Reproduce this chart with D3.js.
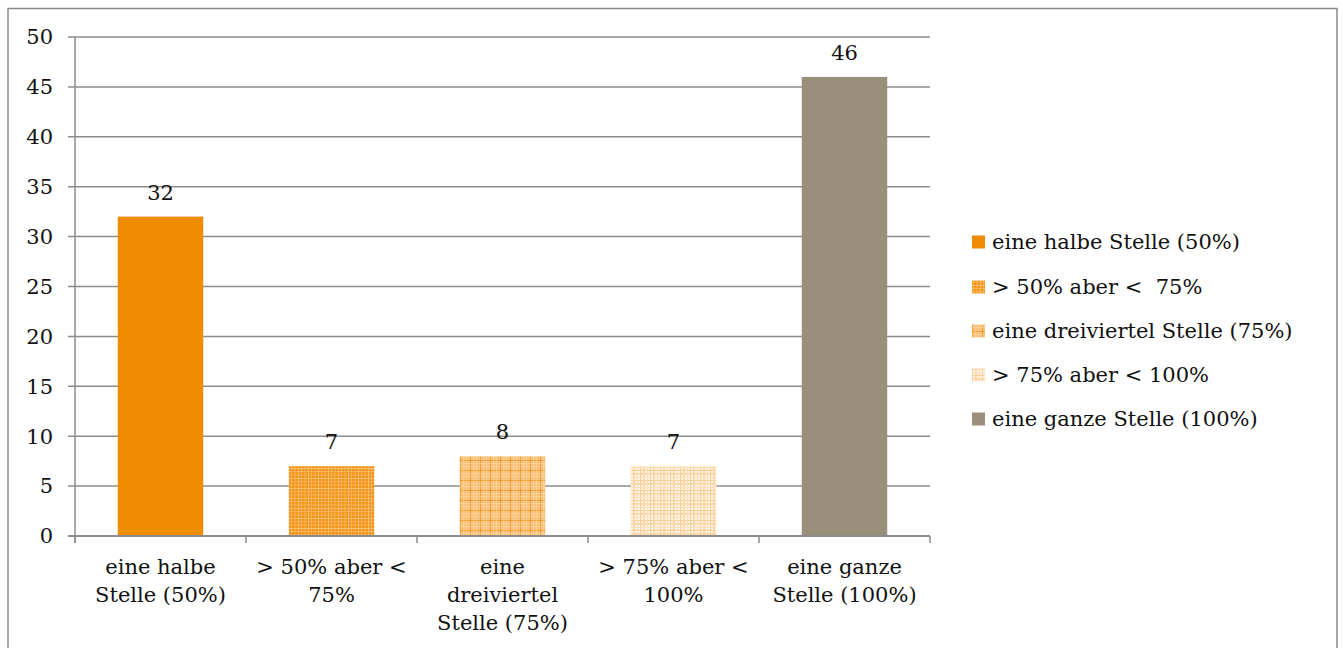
<!DOCTYPE html>
<html>
<head>
<meta charset="utf-8">
<script src="https://cdn.jsdelivr.net/npm/d3@7"></script>
<style>
  body { margin: 0; background: #fff; }
  text { font-family: "DejaVu Serif", "Liberation Serif", serif; fill: #111; white-space: pre; }
</style>
</head>
<body>
<div id="canvas"></div>
<script>
// Data
var categories = ["eine halbe Stelle (50%)", "> 50% aber <  75%", "eine dreiviertel Stelle (75%)", "> 75% aber < 100%", "eine ganze Stelle (100%)"]
var axis_labels = [["eine halbe", "Stelle (50%)"], ["> 50% aber <", "75%"], ["eine", "dreiviertel", "Stelle (75%)"], ["> 75% aber <", "100%"], ["eine ganze", "Stelle (100%)"]]
var values = [32, 7, 8, 7, 46]
var y_ticks = [0, 5, 10, 15, 20, 25, 30, 35, 40, 45, 50]
var fills = ["#F08C00", "url(#pat_dense)", "url(#pat_grid)", "url(#pat_light)", "#9A8F7A"]

// Display variables
var total_width = 1343, total_height = 648
var plot = {left: 75, right: 930, top: 37, bottom: 536}
var font_size = 21
var grid_colour = "#8c8c8c"

var svg = d3.select("#canvas").append("svg").attr("width", total_width).attr("height", total_height)

// Patterns for the hatched bars
var defs = svg.append("defs")
function stripes(id, base, stripe_list, size) {
    var p = defs.append("pattern").attr("id", id).attr("patternUnits", "userSpaceOnUse")
        .attr("width", size).attr("height", size)
    p.append("rect").attr("width", size).attr("height", size).attr("fill", base)
    stripe_list.forEach(function(s) {
        p.append("rect").attr("x", s[0]).attr("y", 0).attr("width", s[1]).attr("height", size).attr("fill", s[2]).attr("opacity", s[3])
        p.append("rect").attr("x", 0).attr("y", s[0]).attr("width", size).attr("height", s[1]).attr("fill", s[2]).attr("opacity", s[3])
    })
}
stripes("pat_dense", "#F39418", [[1, 1, "#FBC67F", 0.6], [4, 2, "#F8B458", 0.5], [8, 1, "#FCD49E", 0.6]], 10)
stripes("pat_grid", "#FAC47C", [[0, 1, "#F29A2A", 0.9], [3, 1, "#FBD29E", 0.6], [6, 1, "#FBD29E", 0.6]], 10)
stripes("pat_light", "#FFF4E6", [[0, 1, "#F9BE6E", 0.7], [3, 2, "#FCD3A0", 0.8], [7, 1, "#FCDDB5", 0.9]], 10)

// Outer border
svg.append("rect").attr("x", 8).attr("y", 8.5).attr("width", 1329).attr("height", 660)
    .attr("fill", "none").attr("stroke", "#8a8a8a").attr("stroke-width", 1.5)

// Scales
var x = d3.scaleBand().domain(d3.range(categories.length)).range([plot.left, plot.right]).paddingInner(0).paddingOuter(0)
var y = d3.scaleLinear().domain([0, 50]).range([plot.bottom, plot.top])
var bar_width = x.bandwidth() * 0.5

// Gridlines and y ticks
svg.append("g").selectAll("line").data(y_ticks).enter().append("line")
    .attr("x1", plot.left - 7).attr("x2", plot.right)
    .attr("y1", d => y(d)).attr("y2", d => y(d))
    .attr("stroke", grid_colour).attr("stroke-width", 1.5)
svg.append("g").selectAll("text").data(y_ticks).enter().append("text")
    .attr("x", 53).attr("y", d => y(d)).attr("dy", "0.35em")
    .attr("text-anchor", "end").style("font-size", font_size + "px")
    .text(d => d)

// Bars
svg.append("g").selectAll("rect").data(values).enter().append("rect")
    .attr("x", (d, i) => x(i) + (x.bandwidth() - bar_width) / 2)
    .attr("width", bar_width)
    .attr("y", d => y(d))
    .attr("height", d => y(0) - y(d))
    .attr("fill", (d, i) => fills[i])

// Axes lines and category ticks
svg.append("line").attr("x1", plot.left).attr("x2", plot.left).attr("y1", plot.top).attr("y2", plot.bottom + 7)
    .attr("stroke", grid_colour).attr("stroke-width", 1.5)
svg.append("line").attr("x1", plot.left - 7).attr("x2", plot.right).attr("y1", plot.bottom).attr("y2", plot.bottom)
    .attr("stroke", grid_colour).attr("stroke-width", 2)
svg.append("g").selectAll("line").data(d3.range(categories.length + 1)).enter().append("line")
    .attr("x1", i => plot.left + i * x.bandwidth()).attr("x2", i => plot.left + i * x.bandwidth())
    .attr("y1", plot.bottom).attr("y2", plot.bottom + 7)
    .attr("stroke", grid_colour).attr("stroke-width", 1.5)

// Value labels
svg.append("g").selectAll("text").data(values).enter().append("text")
    .attr("x", (d, i) => x(i) + x.bandwidth() / 2)
    .attr("y", d => y(d) - 17)
    .attr("text-anchor", "middle").style("font-size", font_size + "px")
    .text(d => d)

// Category labels
var cat = svg.append("g").selectAll("text").data(axis_labels).enter().append("text")
    .attr("text-anchor", "middle").style("font-size", font_size + "px")
    .attr("transform", (d, i) => "translate(" + (x(i) + x.bandwidth() / 2) + "," + (plot.bottom + 38) + ")")
cat.selectAll("tspan").data(d => d).enter().append("tspan")
    .attr("x", 0).attr("y", (d, j) => j * 28).text(d => d)

// Legend
var legend_y = [242, 287, 331, 375, 419]
var legend = svg.append("g").selectAll("g").data(categories).enter().append("g")
    .attr("transform", (d, i) => "translate(972," + legend_y[i] + ")")
legend.append("rect").attr("x", 0).attr("y", -6.5).attr("width", 13).attr("height", 13)
    .attr("fill", (d, i) => fills[i])
legend.append("text").attr("x", 20).attr("dy", "0.35em").style("font-size", font_size + "px")
    .text(d => d)
</script>
</body>
</html>
